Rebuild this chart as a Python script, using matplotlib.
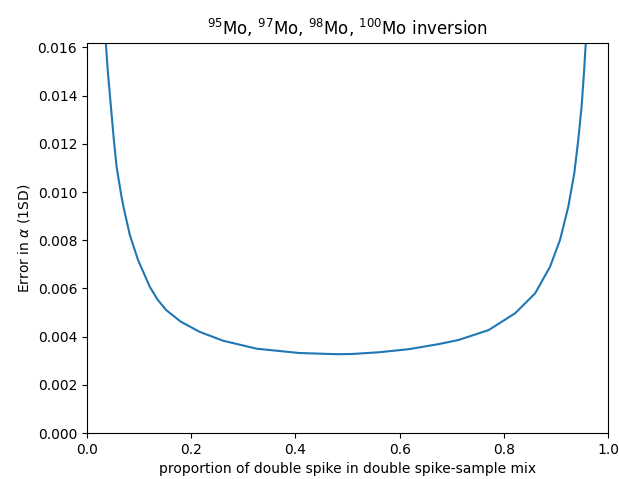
import numpy as np
import matplotlib
matplotlib.use("Agg")
import matplotlib.pyplot as plt

# proportion of double spike vs error in alpha
prop = [0.0363, 0.040, 0.044, 0.0516, 0.0568, 0.0663, 0.0714, 0.0822,
        0.098, 0.1205, 0.135, 0.152, 0.180, 0.216, 0.261, 0.325, 0.407,
        0.480, 0.509, 0.560, 0.618, 0.675, 0.713, 0.7706, 0.8216, 0.860,
        0.8885, 0.9076, 0.9235, 0.935, 0.9426, 0.949, 0.9535, 0.957]
err = [0.01617, 0.01500, 0.01402, 0.01216, 0.01105, 0.00980, 0.00925,
       0.00822, 0.00718, 0.00607, 0.00555, 0.00510, 0.00462, 0.00420,
       0.00383, 0.00350, 0.00332, 0.00327, 0.00328, 0.00335, 0.00348,
       0.00369, 0.00386, 0.00427, 0.00497, 0.00580, 0.00690, 0.00801,
       0.00939, 0.01078, 0.01216, 0.01354, 0.01492, 0.01617]

fig = plt.figure(figsize=(6.19, 4.79), dpi=100)
ax = fig.add_axes([0.1405, 0.096, 0.842, 0.8136])
ax.plot(prop, err, color='#1f77b4', linewidth=1.5)
ax.set_xlim(0, 1)
ax.set_ylim(0, 0.01617)
ax.set_yticks(np.arange(0, 0.0161, 0.002))
ax.set_xlabel('proportion of double spike in double spike-sample mix')
ax.set_ylabel(r'Error in $\alpha$ (1SD)')
ax.set_title(r'$^{95}$Mo, $^{97}$Mo, $^{98}$Mo, $^{100}$Mo inversion')
fig.savefig('out.png', dpi=100)
